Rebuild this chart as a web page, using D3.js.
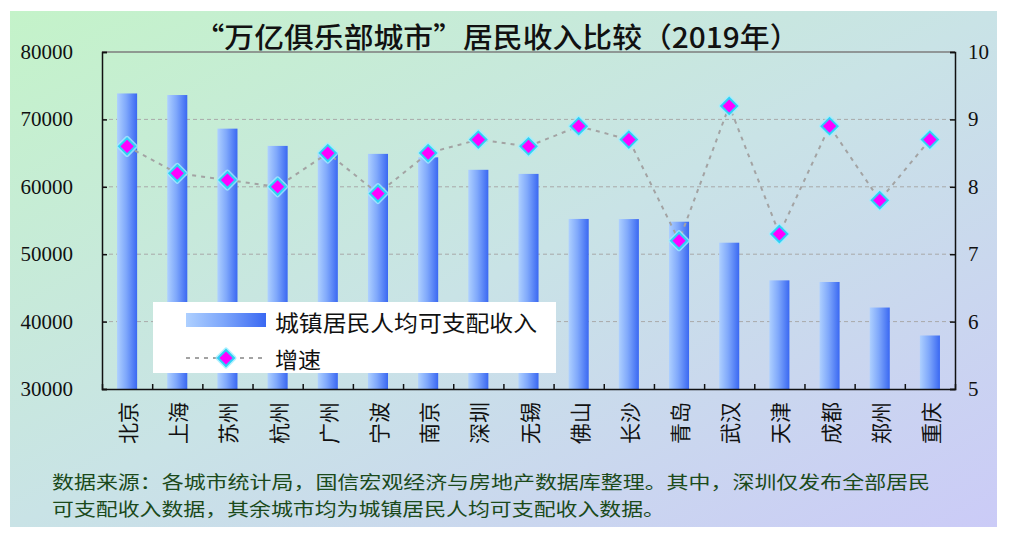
<!DOCTYPE html>
<html>
<head>
<meta charset="utf-8">
<script src="https://cdn.jsdelivr.net/npm/d3@7"></script>
<style>
  body { margin: 0; background: #fff; }
  svg { display: block; }
</style>
</head>
<body>
<div id="chart"></div>
<script>
const cities = ['北京', '上海', '苏州', '杭州', '广州', '宁波', '南京', '深圳', '无锡',
    '佛山', '长沙', '青岛', '武汉', '天津', '成都', '郑州', '重庆'];
const income = [73849, 73615, 68629, 66068, 65052, 64886, 64372, 62522, 61915,
    55233, 55211, 54820, 51706, 46119, 45878, 42087, 37939];
const growth = [8.6, 8.2, 8.1, 8.0, 8.5, 7.9, 8.5, 8.7, 8.6,
    8.9, 8.7, 7.2, 9.2, 7.3, 8.9, 7.8, 8.7];
const incomeTicks = [30000, 40000, 50000, 60000, 70000, 80000];
const growthTicks = [5, 6, 7, 8, 9, 10];
const legendLabels = ['城镇居民人均可支配收入', '增速'];
const titleText = '“万亿俱乐部城市”居民收入比较（2019年）';
const noteLines = ['数据来源：各城市统计局，国信宏观经济与房地产数据库整理。其中，深圳仅发布全部居民',
    '可支配收入数据，其余城市均为城镇居民人均可支配收入数据。'];

const W = 1010, H = 538;
const plot = { left: 102, right: 955, top: 52, bottom: 389 };
const cjk = '"Noto Sans CJK SC", "Noto Sans", sans-serif';
const serif = '"Liberation Serif", "DejaVu Serif", serif';

const svg = d3.select('#chart').append('svg')
    .attr('width', W)
    .attr('height', H);

const defs = svg.append('defs');
const bg = defs.append('linearGradient').attr('id', 'bg')
    .attr('x1', '0%').attr('y1', '0%').attr('x2', '100%').attr('y2', '100%');
bg.append('stop').attr('offset', '0%').attr('stop-color', '#c4f3c9');
bg.append('stop').attr('offset', '50%').attr('stop-color', '#c9e3e6');
bg.append('stop').attr('offset', '100%').attr('stop-color', '#cbcbf7');

const barGrad = defs.append('linearGradient').attr('id', 'barGrad')
    .attr('x1', '0%').attr('y1', '0%').attr('x2', '100%').attr('y2', '0%');
barGrad.append('stop').attr('offset', '0%').attr('stop-color', '#aed0ff');
barGrad.append('stop').attr('offset', '45%').attr('stop-color', '#7fa8fb');
barGrad.append('stop').attr('offset', '100%').attr('stop-color', '#3a68f2');

// panel background
svg.append('rect')
    .attr('x', 10).attr('y', 11)
    .attr('width', 987).attr('height', 516)
    .attr('fill', 'url(#bg)');

// title
svg.append('text')
    .attr('x', 497).attr('y', 36)
    .attr('text-anchor', 'middle')
    .attr('dominant-baseline', 'central')
    .attr('font-family', cjk)
    .attr('font-size', 28)
    .attr('font-weight', 500)
    .attr('fill', '#111')
    .attr('textLength', 605)
    .attr('lengthAdjust', 'spacingAndGlyphs')
    .text(titleText);

const x = d3.scaleBand()
    .domain(cities)
    .range([plot.left, plot.right])
    .paddingInner(0.6)
    .paddingOuter(0.3);

const yL = d3.scaleLinear().domain([30000, 80000]).range([plot.bottom, plot.top]);
const yR = d3.scaleLinear().domain([5, 10]).range([plot.bottom, plot.top]);

// gridlines
svg.append('g')
    .selectAll('line')
    .data(incomeTicks.slice(1, -1))
    .enter().append('line')
    .attr('x1', plot.left).attr('x2', plot.right)
    .attr('y1', d => yL(d)).attr('y2', d => yL(d))
    .attr('stroke', '#a9a9a9')
    .attr('stroke-width', 1)
    .attr('stroke-dasharray', '4,3');

// bars
svg.append('g')
    .selectAll('rect')
    .data(cities)
    .enter().append('rect')
    .attr('x', d => x(d))
    .attr('width', x.bandwidth())
    .attr('y', (d, i) => yL(income[i]))
    .attr('height', (d, i) => plot.bottom - yL(income[i]))
    .attr('fill', 'url(#barGrad)');

// growth line
const line = d3.line()
    .x((d, i) => x(cities[i]) + x.bandwidth() / 2)
    .y(d => yR(d));

svg.append('path')
    .datum(growth)
    .attr('d', line)
    .attr('fill', 'none')
    .attr('stroke', '#a3a3a3')
    .attr('stroke-width', 2)
    .attr('stroke-dasharray', '4,5');

function diamond(g, cx, cy) {
    const r = 8;
    const p = `M${cx},${cy - r}L${cx + r},${cy}L${cx},${cy + r}L${cx - r},${cy}Z`;
    g.append('path').attr('d', p)
        .attr('fill', 'none').attr('stroke', '#9feeff').attr('stroke-width', 5)
        .attr('stroke-linejoin', 'round').attr('opacity', 0.8);
    g.append('path').attr('d', p)
        .attr('fill', '#ff00ff').attr('stroke', '#2fd0f5').attr('stroke-width', 2);
}

const markers = svg.append('g');
growth.forEach((v, i) => diamond(markers, x(cities[i]) + x.bandwidth() / 2, yR(v)));

// frame
svg.append('line')
    .attr('x1', plot.left).attr('x2', plot.right)
    .attr('y1', plot.top).attr('y2', plot.top)
    .attr('stroke', '#7d7d7d').attr('stroke-width', 1.5);

const axisL = d3.axisLeft(yL).tickValues(incomeTicks).tickSize(-5).tickFormat('');
const axisR = d3.axisRight(yR).tickValues(growthTicks).tickSize(-5).tickFormat('');
const bandEdges = cities.slice(1).map(c => x(c) - x.step() * x.paddingInner() / 2);
const axisB = d3.axisBottom(d3.scaleLinear().domain([plot.left, plot.right]).range([plot.left, plot.right]))
    .tickValues(bandEdges).tickSize(-5).tickFormat('');

[[axisL, `translate(${plot.left},0)`], [axisR, `translate(${plot.right},0)`],
    [axisB, `translate(0,${plot.bottom})`]].forEach(([ax, tr]) => {
    const g = svg.append('g').attr('transform', tr).call(ax);
    g.selectAll('path, line').attr('stroke', '#111').attr('stroke-width', 1.5);
});

// tick labels
svg.append('g')
    .selectAll('text')
    .data(incomeTicks)
    .enter().append('text')
    .attr('x', 73)
    .attr('y', d => yL(d))
    .attr('text-anchor', 'end')
    .attr('dominant-baseline', 'central')
    .attr('font-family', serif)
    .attr('font-size', 21)
    .attr('fill', '#111')
    .text(d => d);

svg.append('g')
    .selectAll('text')
    .data(growthTicks)
    .enter().append('text')
    .attr('x', 968)
    .attr('y', d => yR(d))
    .attr('dominant-baseline', 'central')
    .attr('font-family', serif)
    .attr('font-size', 21)
    .attr('fill', '#111')
    .text(d => d);

svg.append('g')
    .selectAll('text')
    .data(cities)
    .enter().append('text')
    .attr('transform', d => `translate(${x(d) + x.bandwidth() / 2},402) rotate(-90)`)
    .attr('text-anchor', 'end')
    .attr('dominant-baseline', 'central')
    .attr('font-family', cjk)
    .attr('font-size', 21)
    .attr('fill', '#111')
    .text(d => d);

// legend
const legend = svg.append('g');
legend.append('rect')
    .attr('x', 153).attr('y', 302)
    .attr('width', 403).attr('height', 71)
    .attr('fill', '#fff');
legend.append('rect')
    .attr('x', 186).attr('y', 313)
    .attr('width', 80).attr('height', 14)
    .attr('fill', 'url(#barGrad)');
legend.append('line')
    .attr('x1', 186).attr('x2', 266)
    .attr('y1', 358).attr('y2', 358)
    .attr('stroke', '#a3a3a3').attr('stroke-width', 2)
    .attr('stroke-dasharray', '4,5');
diamond(legend, 226, 358);
legend.selectAll('text.lg')
    .data(legendLabels)
    .enter().append('text')
    .attr('class', 'lg')
    .attr('x', 275)
    .attr('y', (d, i) => 321 + i * 37)
    .attr('dominant-baseline', 'central')
    .attr('font-family', cjk)
    .attr('font-size', 22)
    .attr('fill', '#111')
    .attr('textLength', (d, i) => i === 0 ? 262 : 46)
    .attr('lengthAdjust', 'spacingAndGlyphs')
    .text(d => d);

// source note
svg.append('g')
    .selectAll('text')
    .data(noteLines)
    .enter().append('text')
    .attr('x', 52)
    .attr('y', (d, i) => 481 + i * 27)
    .attr('dominant-baseline', 'central')
    .attr('font-family', cjk)
    .attr('font-size', 18)
    .attr('fill', '#1b4a1b')
    .attr('textLength', (d, i) => i === 0 ? 878 : 613)
    .attr('lengthAdjust', 'spacingAndGlyphs')
    .text(d => d);
</script>
</body>
</html>
